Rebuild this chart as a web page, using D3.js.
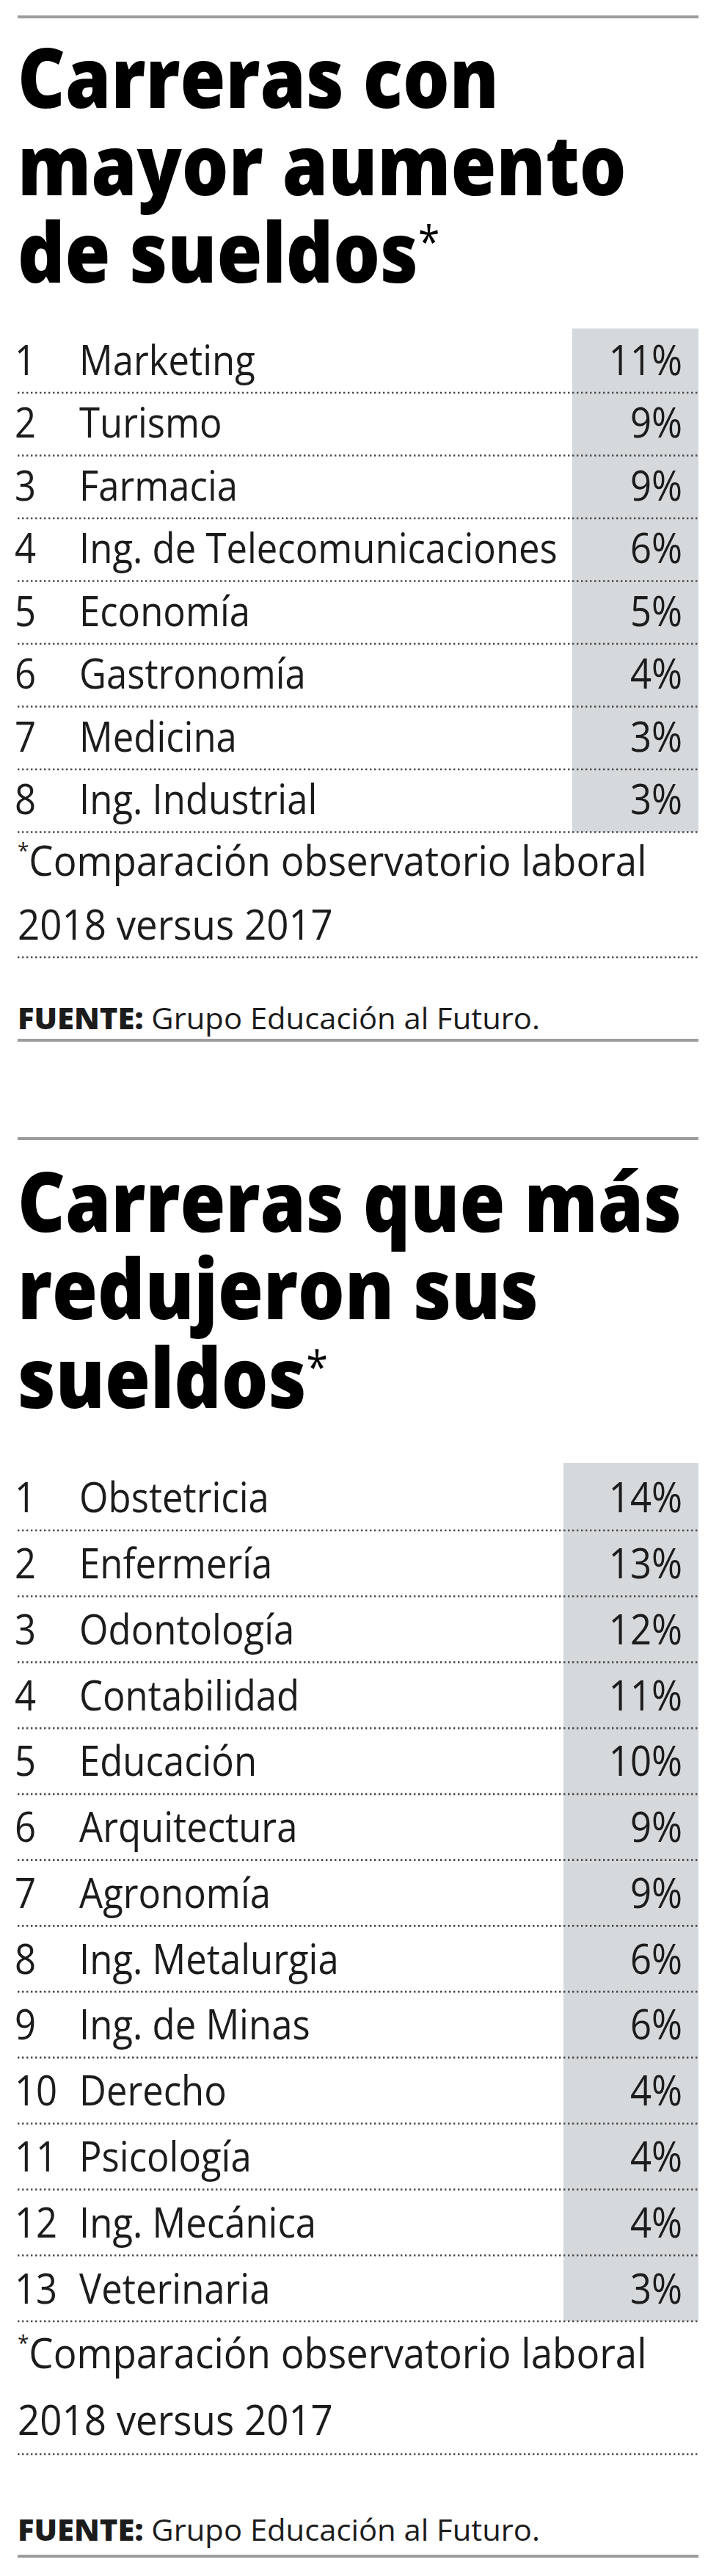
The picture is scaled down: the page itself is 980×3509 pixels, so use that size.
<!DOCTYPE html>
<html>
<head>
<meta charset="utf-8">
<script src="https://cdn.jsdelivr.net/npm/d3@7"></script>
<style>
  html, body { margin: 0; padding: 0; background: #fff; }
  svg { display: block; }
</style>
</head>
<body>
<svg id="chart" width="980" height="3509"></svg>
<script>
// Carreras con mayor aumento de sueldos
const careersUp = ["Marketing", "Turismo", "Farmacia", "Ing. de Telecomunicaciones",
    "Economía", "Gastronomía", "Medicina", "Ing. Industrial"];
const valuesUp = [11, 9, 9, 6, 5, 4, 3, 3];

// Carreras que más redujeron sus sueldos
const careersDown = ["Obstetricia", "Enfermería", "Odontología", "Contabilidad", "Educación",
    "Arquitectura", "Agronomía", "Ing. Metalurgia", "Ing. de Minas", "Derecho",
    "Psicología", "Ing. Mecánica", "Veterinaria"];
const valuesDown = [14, 13, 12, 11, 10, 9, 9, 6, 6, 4, 4, 4, 3];

const titleUp = ["Carreras con", "mayor aumento", "de sueldos"];
const titleDown = ["Carreras que más", "redujeron sus", "sueldos"];
const footnoteLines = ["Comparación observatorio laboral", "2018 versus 2017"];
const sourceLabel = "FUENTE:";
const sourceText = " Grupo Educación al Futuro.";

const left = 24, right = 952;
const font = "'Open Sans', sans-serif";
const svg = d3.select("#chart");

function measure(text, size, weight) {
    const t = svg.append("text")
        .attr("font-family", font)
        .attr("font-size", size)
        .attr("font-weight", weight)
        .text(text);
    const w = t.node().getComputedTextLength();
    t.remove();
    return w;
}

// the reference uses a condensed face, so squeeze Open Sans horizontally
const titleScaleX = 656 / measure("Carreras con", 113, 800);
const bodyScaleX = 652 / measure("Ing. de Telecomunicaciones", 57, 400);
const footScaleX = bodyScaleX * 1.04;

function drawSection(cfg) {
    const g = svg.append("g");

    const rule = y => g.append("line")
        .attr("x1", left).attr("x2", right)
        .attr("y1", y).attr("y2", y)
        .attr("stroke", "#9c9c9c")
        .attr("stroke-width", 4);

    const dotted = y => g.append("line")
        .attr("x1", left).attr("x2", right)
        .attr("y1", y).attr("y2", y)
        .attr("stroke", "#4a4a4a")
        .attr("stroke-width", 2.6)
        .attr("stroke-dasharray", "2.4,3.6");

    rule(cfg.ruleTop);

    // title
    cfg.title.forEach((line, i) => {
        const t = g.append("text")
            .attr("transform", `translate(${left},${cfg.titleBaselines[i]}) scale(${titleScaleX},1)`)
            .attr("font-family", font)
            .attr("font-size", 113)
            .attr("font-weight", 800)
            .attr("fill", "#000");
        t.append("tspan").text(line);
        if (i === cfg.title.length - 1) {
            t.append("tspan")
                .attr("font-size", 60)
                .attr("font-weight", 400)
                .attr("dy", -34)
                .text("*");
        }
    });

    // rows
    const y = d3.scaleBand()
        .domain(cfg.careers.map((d, i) => i))
        .range([cfg.rowsTop, cfg.rowsBottom]);

    g.append("rect")
        .attr("x", cfg.boxX)
        .attr("y", cfg.rowsTop - 2)
        .attr("width", right - cfg.boxX)
        .attr("height", cfg.rowsBottom - cfg.rowsTop + 2)
        .attr("fill", "#d5d9dc");

    const rows = g.selectAll("g.row")
        .data(cfg.careers.map((c, i) => ({career: c, value: cfg.values[i], rank: i + 1})))
        .join("g")
        .attr("class", "row")
        .attr("transform", (d, i) => `translate(0,${y(i) + y.bandwidth()})`);

    const bodyText = (sel, x) => sel.append("text")
        .attr("transform", `translate(${x},-24.5) scale(${bodyScaleX},1)`)
        .attr("font-family", font)
        .attr("font-size", 57)
        .attr("fill", "#1c1c1c");

    bodyText(rows, 20).text(d => d.rank);
    bodyText(rows, 108).text(d => d.career);
    bodyText(rows, 930).attr("text-anchor", "end").text(d => d.value + "%");

    cfg.careers.forEach((d, i) => dotted(y(i) + y.bandwidth()));

    // footnote
    cfg.footBaselines.forEach((b, i) => {
        const t = g.append("text")
            .attr("transform", `translate(${left},${b}) scale(${footScaleX},1)`)
            .attr("font-family", font)
            .attr("font-size", 57)
            .attr("fill", "#1c1c1c");
        if (i === 0) {
            t.append("tspan").attr("font-size", 30).attr("dy", -24).text("*");
            t.append("tspan").attr("dy", 24).text(footnoteLines[i]);
        } else {
            t.text(footnoteLines[i]);
        }
    });
    dotted(cfg.footDotted);

    // source
    const s = g.append("text")
        .attr("font-family", font)
        .attr("font-size", 41)
        .attr("fill", "#1c1c1c");
    s.append("tspan").attr("font-weight", 800).text(sourceLabel);
    s.append("tspan").text(sourceText);
    const sx = 712 / s.node().getComputedTextLength();
    s.attr("transform", `translate(${left},${cfg.sourceBaseline}) scale(${sx},1)`);

    rule(cfg.ruleBottom);
}

drawSection({
    title: titleUp,
    careers: careersUp,
    values: valuesUp,
    ruleTop: 23,
    titleBaselines: [147, 266, 385],
    rowsTop: 449.5,
    rowsBottom: 1133.5,
    boxX: 780,
    footBaselines: [1193, 1280],
    footDotted: 1304,
    sourceBaseline: 1402,
    ruleBottom: 1417
});

drawSection({
    title: titleDown,
    careers: careersDown,
    values: valuesDown,
    ruleTop: 1551,
    titleBaselines: [1678, 1797, 1918],
    rowsTop: 1995,
    rowsBottom: 3162,
    boxX: 768,
    footBaselines: [3226, 3317],
    footDotted: 3343,
    sourceBaseline: 3461,
    ruleBottom: 3482
});
</script>
</body>
</html>
